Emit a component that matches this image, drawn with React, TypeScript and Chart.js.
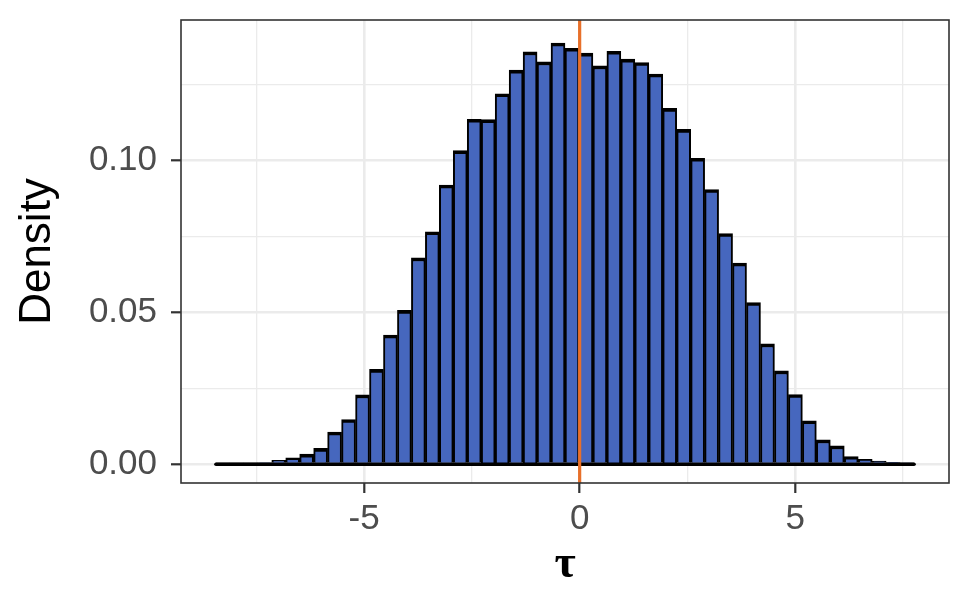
import React, { useEffect, useRef } from 'react';
import { Chart, registerables } from 'chart.js';

Chart.register(...registerables);

// Histogram bin centres (tau) and densities
const binCenters = [
  -8.278, -7.954, -7.63, -7.306, -6.982, -6.658, -6.334, -6.01, -5.686, -5.362,
  -5.038, -4.714, -4.39, -4.066, -3.742, -3.418, -3.094, -2.77, -2.446, -2.122,
  -1.798, -1.474, -1.15, -0.826, -0.502, -0.178, 0.146, 0.47, 0.794, 1.118,
  1.442, 1.766, 2.09, 2.414, 2.738, 3.062, 3.386, 3.71, 4.034, 4.358,
  4.682, 5.006, 5.33, 5.654, 5.978, 6.302, 6.626, 6.95, 7.274, 7.598,
];
const densities = [
  0.0001, 0.0001, 0.0002, 0.0004, 0.0013, 0.0021, 0.0033, 0.0052, 0.0106, 0.0147,
  0.0228, 0.0312, 0.0425, 0.0506, 0.0679, 0.0765, 0.0919, 0.1032, 0.1135, 0.1134,
  0.1219, 0.1297, 0.1357, 0.1324, 0.1386, 0.1369, 0.1353, 0.1311, 0.1359, 0.1333,
  0.1322, 0.1284, 0.1171, 0.1102, 0.1007, 0.0904, 0.0759, 0.0662, 0.0532, 0.0396,
  0.0307, 0.0229, 0.0143, 0.008, 0.006, 0.0025, 0.0016, 0.001, 0.0006, 0.0003,
];
const xTickValues = [-7.5, -5, -2.5, 0, 2.5, 5, 7.5];
const xMajorTicks = [-5, 0, 5];
const yTickValues = [0, 0.025, 0.05, 0.075, 0.1, 0.125];
const yMajorTicks = [0, 0.05, 0.1];
const referenceValue = 0;
const xRange = [-9.25, 8.57];
const yRange = [-0.0062, 0.1462];

const isMajor = (v: number | undefined, list: number[]) =>
  v !== undefined && list.some((m) => Math.abs(m - v) < 1e-9);

const SANS = '"Liberation Sans", Arial, Helvetica, sans-serif';

const overlayPlugin = {
  id: 'overlay',
  afterDatasetsDraw(chart: any) {
    const { ctx, chartArea, scales } = chart;
    const xs = scales.x;
    const ys = scales.y;
    const half = (binCenters[1] - binCenters[0]) / 2;
    ctx.save();
    // baseline of histogram
    ctx.strokeStyle = '#000000';
    ctx.lineWidth = 3.5;
    ctx.lineCap = 'round';
    ctx.beginPath();
    const y0 = ys.getPixelForValue(0);
    ctx.moveTo(xs.getPixelForValue(binCenters[0] - half), y0);
    ctx.lineTo(xs.getPixelForValue(binCenters[binCenters.length - 1] + half), y0);
    ctx.stroke();
    // reference line
    ctx.strokeStyle = '#E8702A';
    ctx.lineWidth = 3.2;
    ctx.lineCap = 'butt';
    const xr = xs.getPixelForValue(referenceValue);
    ctx.beginPath();
    ctx.moveTo(xr, chartArea.top);
    ctx.lineTo(xr, chartArea.bottom);
    ctx.stroke();
    // panel border
    ctx.strokeStyle = '#333333';
    ctx.lineWidth = 1.6;
    ctx.strokeRect(
      chartArea.left,
      chartArea.top,
      chartArea.right - chartArea.left,
      chartArea.bottom - chartArea.top
    );
    ctx.restore();
  },
};

export default function App() {
  const canvasRef = useRef<HTMLCanvasElement | null>(null);

  useEffect(() => {
    if (!canvasRef.current) return;
    const chart = new Chart(canvasRef.current, {
      type: 'bar',
      data: {
        datasets: [
          {
            data: binCenters.map((x, i) => ({ x, y: densities[i] })),
            backgroundColor: '#4667BE',
            borderColor: '#000000',
            borderWidth: { top: 3.6, left: 2, right: 2, bottom: 0 },
            borderSkipped: false,
            barPercentage: 1,
            categoryPercentage: 1,
          },
        ],
      },
      options: {
        responsive: false,
        animation: false,
        layout: { padding: { top: 20, right: 26, left: 0, bottom: 0 } },
        plugins: { legend: { display: false }, tooltip: { enabled: false } },
        scales: {
          x: {
            type: 'linear',
            min: xRange[0],
            max: xRange[1],
            offset: false,
            afterBuildTicks: (scale: any) => {
              scale.ticks = xTickValues.map((v) => ({ value: v }));
            },
            afterFit: (scale: any) => {
              scale.height = 117;
              scale.paddingLeft = 0;
              scale.paddingRight = 0;
            },
            grid: {
              offset: false,
              color: '#EBEBEB',
              lineWidth: (c: any) => (isMajor(c.tick?.value, xMajorTicks) ? 2.6 : 1.3),
              tickColor: (c: any) =>
                isMajor(c.tick?.value, xMajorTicks) ? '#333333' : 'rgba(0,0,0,0)',
              tickWidth: 2.2,
              tickLength: 10,
            },
            border: { display: false },
            ticks: {
              autoSkip: false,
              maxRotation: 0,
              padding: 5,
              color: '#4D4D4D',
              font: { family: SANS, size: 35 },
              callback: (v: any) => (isMajor(Number(v), xMajorTicks) ? String(v) : ''),
            },
            title: {
              display: true,
              text: 'τ',
              color: '#000000',
              font: { family: '"Liberation Serif", "Times New Roman", serif', size: 46, weight: 'bold' },
              padding: { top: 0, bottom: 7 },
            },
          },
          y: {
            type: 'linear',
            min: yRange[0],
            max: yRange[1],
            afterBuildTicks: (scale: any) => {
              scale.ticks = yTickValues.map((v) => ({ value: v }));
            },
            afterFit: (scale: any) => {
              scale.width = 181;
              scale.paddingTop = 0;
              scale.paddingBottom = 0;
            },
            grid: {
              offset: false,
              color: '#EBEBEB',
              lineWidth: (c: any) => (isMajor(c.tick?.value, yMajorTicks) ? 2.6 : 1.3),
              tickColor: (c: any) =>
                isMajor(c.tick?.value, yMajorTicks) ? '#333333' : 'rgba(0,0,0,0)',
              tickWidth: 2.2,
              tickLength: 10,
            },
            border: { display: false },
            ticks: {
              autoSkip: false,
              padding: 14,
              color: '#4D4D4D',
              font: { family: SANS, size: 35 },
              callback: (v: any) => (isMajor(Number(v), yMajorTicks) ? Number(v).toFixed(2) : ''),
            },
            title: {
              display: true,
              text: 'Density',
              color: '#000000',
              font: { family: SANS, size: 44 },
              padding: { top: 11, bottom: 0 },
            },
          },
        },
      },
      plugins: [overlayPlugin],
    } as any);
    return () => chart.destroy();
  }, []);

  return (
    <div style={{ position: 'absolute', left: 0, top: 0, width: 975, height: 600, background: '#ffffff' }}>
      <canvas ref={canvasRef} width={975} height={600} />
    </div>
  );
}
